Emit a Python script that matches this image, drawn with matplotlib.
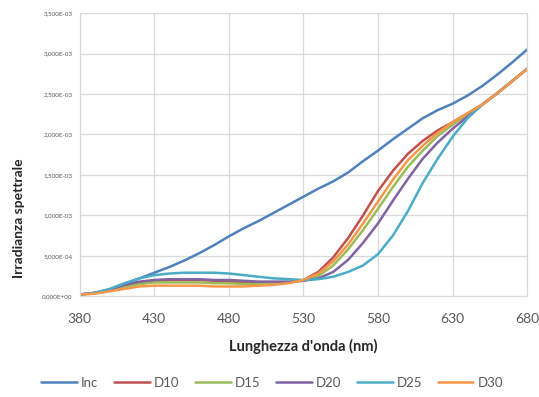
import numpy as np
import matplotlib
matplotlib.use("Agg")
import matplotlib.pyplot as plt
from matplotlib.ticker import FuncFormatter

plt.rcParams["font.family"] = ["Lato", "DejaVu Sans"]

# lunghezze d'onda (nm)
wl = [380, 390, 400, 410, 420, 430, 440, 450, 460, 470, 480, 490, 500, 510, 520,
      530, 540, 550, 560, 570, 580, 590, 600, 610, 620, 630, 640, 650, 660, 670, 680]

# irradianza (x 1e-3)
inc = [0.02, 0.04, 0.08, 0.15, 0.22, 0.29, 0.36, 0.44, 0.53, 0.63, 0.74, 0.84, 0.93, 1.03, 1.13,
       1.23, 1.33, 1.42, 1.53, 1.67, 1.80, 1.94, 2.07, 2.20, 2.30, 2.38, 2.48, 2.60, 2.74, 2.89, 3.05]
d10 = [0.02, 0.04, 0.08, 0.13, 0.17, 0.19, 0.20, 0.20, 0.20, 0.19, 0.18, 0.17, 0.16, 0.16, 0.17,
       0.20, 0.30, 0.48, 0.72, 1.00, 1.30, 1.55, 1.76, 1.92, 2.05, 2.15, 2.26, 2.37, 2.51, 2.66, 2.81]
d15 = [0.02, 0.04, 0.07, 0.11, 0.15, 0.17, 0.17, 0.17, 0.17, 0.16, 0.16, 0.15, 0.15, 0.16, 0.17,
       0.19, 0.25, 0.38, 0.58, 0.82, 1.08, 1.35, 1.60, 1.80, 1.98, 2.12, 2.25, 2.37, 2.51, 2.66, 2.81]
d20 = [0.02, 0.04, 0.08, 0.14, 0.18, 0.20, 0.21, 0.21, 0.21, 0.20, 0.20, 0.19, 0.18, 0.18, 0.18,
       0.19, 0.22, 0.30, 0.45, 0.66, 0.90, 1.18, 1.45, 1.70, 1.90, 2.07, 2.22, 2.37, 2.51, 2.66, 2.81]
d25 = [0.02, 0.04, 0.09, 0.16, 0.22, 0.26, 0.28, 0.29, 0.29, 0.29, 0.28, 0.26, 0.24, 0.22, 0.21,
       0.20, 0.21, 0.24, 0.30, 0.38, 0.52, 0.75, 1.05, 1.40, 1.70, 1.97, 2.20, 2.37, 2.51, 2.66, 2.81]
d30 = [0.02, 0.03, 0.06, 0.09, 0.12, 0.13, 0.13, 0.13, 0.13, 0.12, 0.12, 0.12, 0.13, 0.14, 0.16,
       0.20, 0.28, 0.43, 0.64, 0.90, 1.17, 1.44, 1.68, 1.86, 2.02, 2.15, 2.26, 2.37, 2.51, 2.66, 2.81]

labels = ["Inc", "D10", "D15", "D20", "D25", "D30"]
colori = ["#4F81BD", "#C0504D", "#9BBB59", "#8064A2", "#4BACC6", "#F79646"]

fig = plt.figure(figsize=(5.39, 3.97), dpi=100)
ax = fig.add_axes([0.148, 0.254, 0.83, 0.713])

for serie, lab, col in zip([inc, d10, d15, d20, d25, d30], labels, colori):
    ax.plot(wl, np.array(serie) * 1e-3, color=col, lw=1.8, label=lab, solid_capstyle="round")

ax.set_xlim(380, 680)
ax.set_ylim(0, 3.5e-3)
ax.set_xticks(range(380, 681, 50))
ax.set_yticks(np.arange(0, 3.51e-3, 5e-4))
ax.yaxis.set_major_formatter(FuncFormatter(lambda v, p: f"{v:.3E}".replace(".", ",")))
ax.tick_params(axis="y", labelsize=4.5, colors="#595959", length=0, pad=5)
ax.tick_params(axis="x", labelsize=10, colors="#595959", length=0, pad=12)
ax.grid(True, color="#D9D9D9", lw=0.9)
ax.set_axisbelow(True)
for s in ax.spines.values():
    s.set_color("#D9D9D9")

ax.set_xlabel("Lunghezza d'onda (nm)", fontsize=10.5, fontweight="bold", color="#262626", labelpad=10)
fig.text(0.035, 0.45, "Irradianza spettrale", rotation=90, fontsize=10, fontweight="bold",
         color="#262626", ha="center", va="center")

fig.legend(loc="center", bbox_to_anchor=(0.505, 0.035), ncol=6, frameon=False, fontsize=9.5,
           handlelength=2.7, handletextpad=0.3, columnspacing=1.2, labelcolor="#595959")

fig.savefig("out.png", dpi=100)
